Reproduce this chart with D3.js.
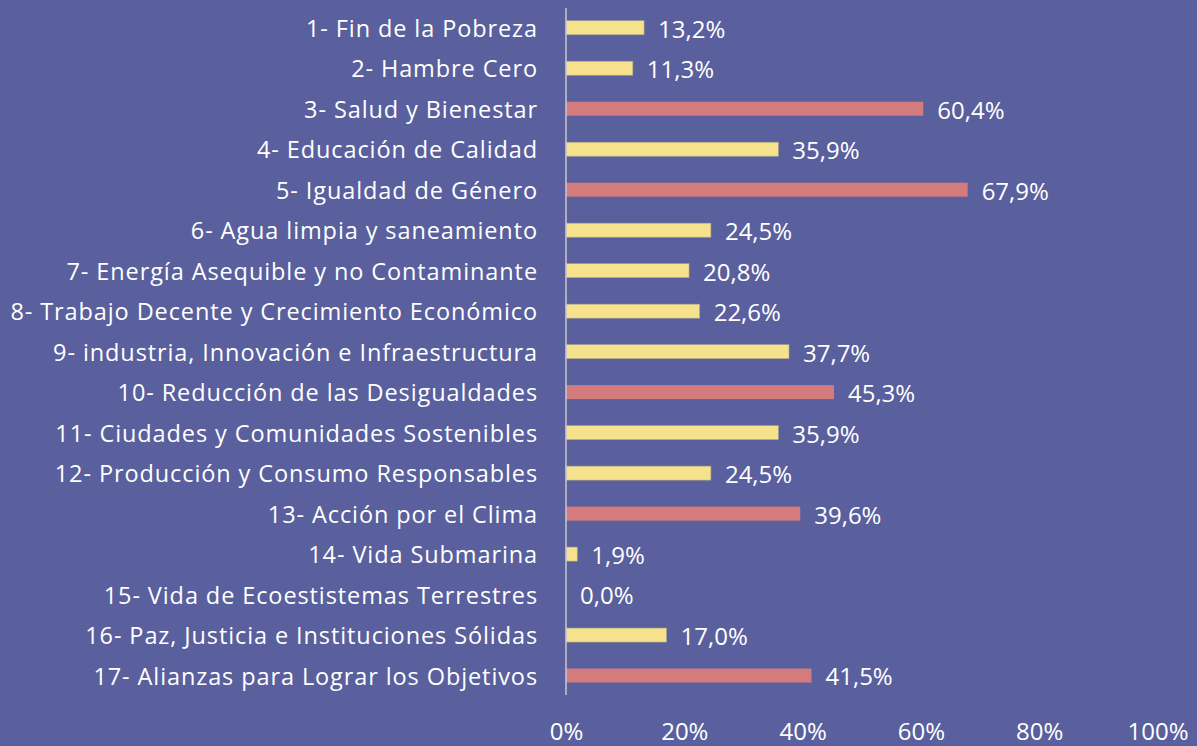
<!DOCTYPE html>
<html lang="es">
<head>
<meta charset="UTF-8">
<title>ODS</title>
<script src="https://d3js.org/d3.v7.min.js"></script>
<style>
  html, body { margin: 0; padding: 0; background: #5A5F9D; }
  svg { display: block; }
  text { font-family: "Open Sans", "Noto Sans", sans-serif; fill: #ffffff; }
  .cat { font-size: 23.5px; letter-spacing: 0.9px; }
  .val { font-size: 24px; }
  .tick text { font-size: 24px; }
</style>
</head>
<body>
<svg width="1197" height="746"></svg>
<script>
// data
var categories = [
  "1- Fin de la Pobreza",
  "2- Hambre Cero",
  "3- Salud y Bienestar",
  "4- Educación de Calidad",
  "5- Igualdad de Género",
  "6- Agua limpia y saneamiento",
  "7- Energía Asequible y no Contaminante",
  "8- Trabajo Decente y Crecimiento Económico",
  "9- industria, Innovación e Infraestructura",
  "10- Reducción de las Desigualdades",
  "11- Ciudades y Comunidades Sostenibles",
  "12- Producción y Consumo Responsables",
  "13- Acción por el Clima",
  "14- Vida Submarina",
  "15- Vida de Ecoestistemas Terrestres",
  "16- Paz, Justicia e Instituciones Sólidas",
  "17- Alianzas para Lograr los Objetivos"
];
var values = [13.2, 11.3, 60.4, 35.9, 67.9, 24.5, 20.8, 22.6, 37.7, 45.3, 35.9, 24.5, 39.6, 1.9, 0.0, 17.0, 41.5];
var highlighted = [false, false, true, false, true, false, false, false, false, true, false, false, true, false, false, false, true];
var xTicks = [0, 20, 40, 60, 80, 100];

var svg = d3.select("svg");
var x = d3.scaleLinear().domain([0, 100]).range([566, 1157.5]);
var y = d3.scaleBand().domain(categories).range([7.5, 695.8])
  .paddingInner(0.654).paddingOuter(0.327);

// bars
svg.selectAll(".bar")
  .data(values)
  .enter().append("rect")
  .attr("class", "bar")
  .attr("x", x(0))
  .attr("y", function(d, i) { return y(categories[i]); })
  .attr("width", function(d) { return x(d) - x(0); })
  .attr("height", y.bandwidth())
  .attr("fill", function(d, i) { return highlighted[i] ? "#D47C7D" : "#F6E28C"; })
  .attr("stroke", function(d, i) { return highlighted[i] ? "none" : "#a9a68a"; })
  .attr("stroke-width", 0.6);

// value labels
svg.selectAll(".val")
  .data(values)
  .enter().append("text")
  .attr("class", "val")
  .attr("x", function(d) { return x(d) + 14; })
  .attr("y", function(d, i) { return y(categories[i]) + y.bandwidth() / 2 + 1.5; })
  .attr("dy", "0.35em")
  .text(function(d) { return d.toFixed(1).replace(".", ",") + "%"; });

// category labels
svg.selectAll(".cat")
  .data(categories)
  .enter().append("text")
  .attr("class", "cat")
  .attr("x", 538)
  .attr("y", function(d) { return y(d) + y.bandwidth() / 2 + 1; })
  .attr("dy", "0.35em")
  .attr("text-anchor", "end")
  .text(function(d) { return d; });

// vertical axis line
svg.append("line")
  .attr("x1", x(0)).attr("x2", x(0))
  .attr("y1", 8).attr("y2", 695)
  .attr("stroke", "#c9c9d2")
  .attr("stroke-width", 1.5);

// x axis (labels only)
var xAxis = svg.append("g")
  .attr("transform", "translate(0,740)")
  .call(d3.axisBottom(x).tickValues(xTicks).tickSize(0).tickFormat(function(d) { return d + "%"; }));
xAxis.select(".domain").remove();
xAxis.selectAll("text").attr("fill", "#ffffff").attr("y", 0).attr("dy", 0);
</script>
</body>
</html>
